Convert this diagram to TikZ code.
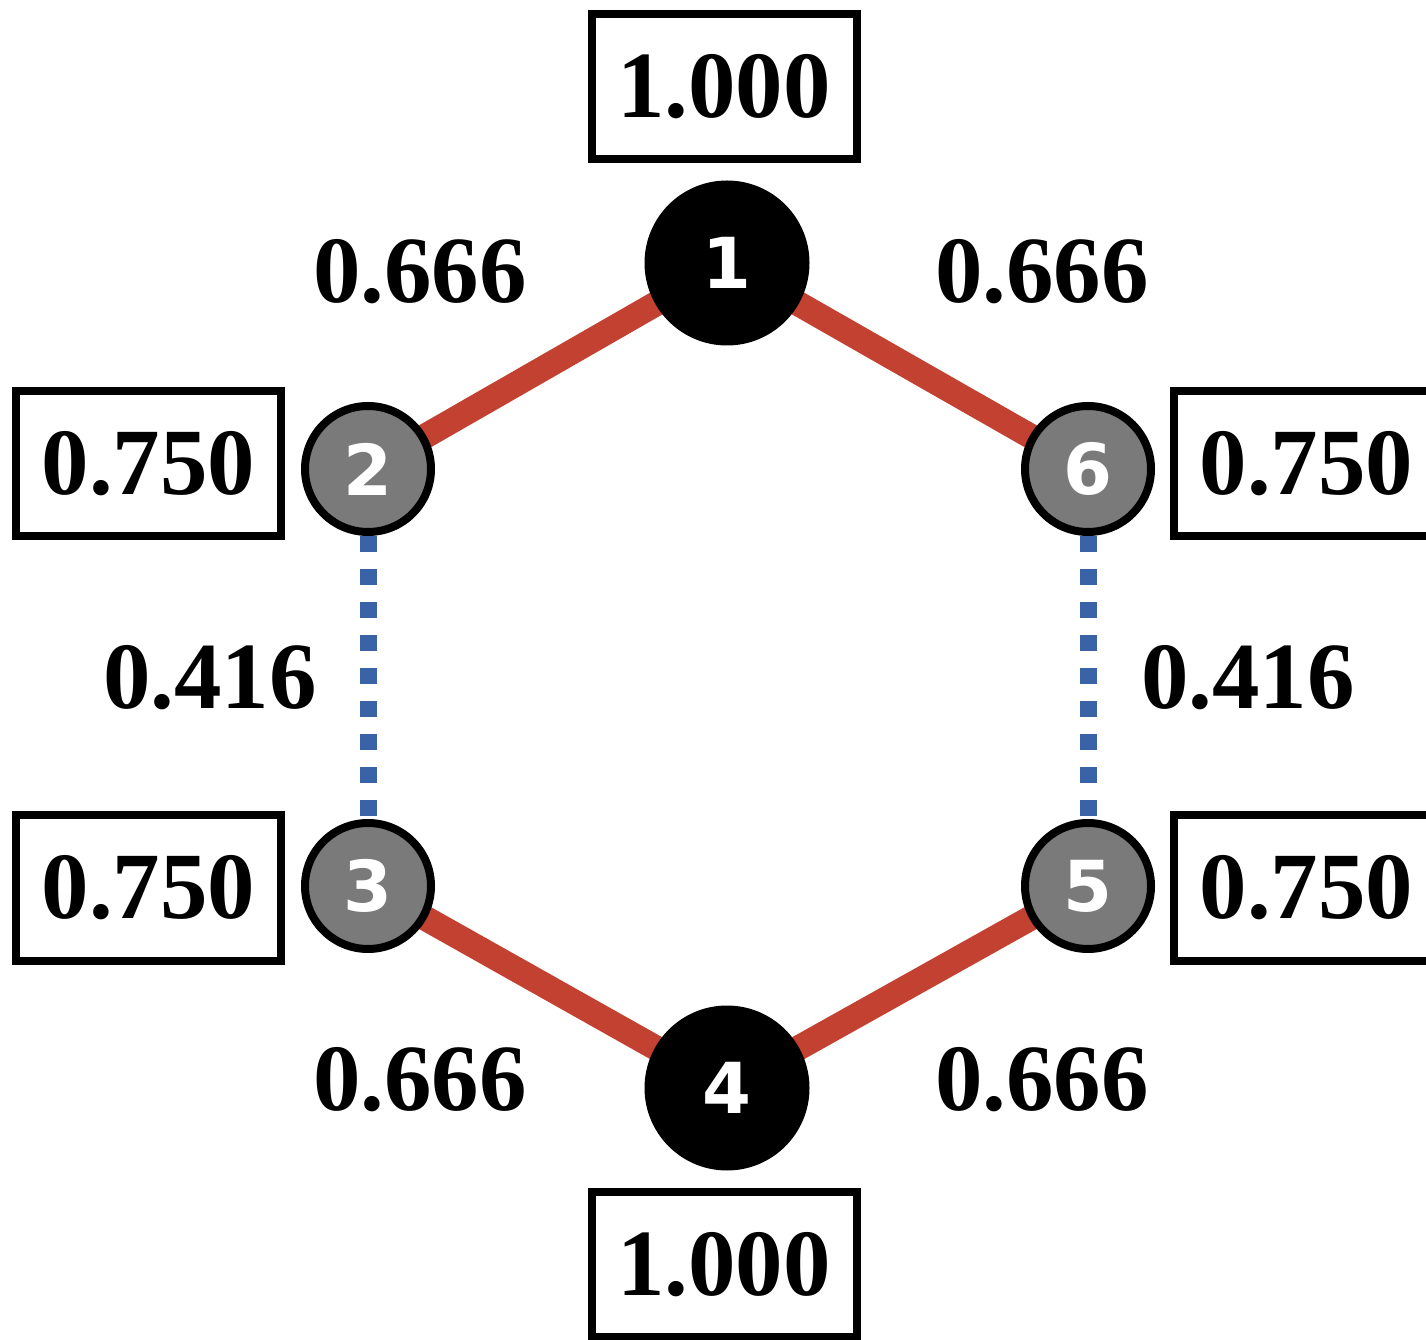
\documentclass[tikz,border=0pt]{standalone}
\usepackage{fontspec}
\setmainfont{Liberation Serif}
\newfontfamily\numfont{DejaVu Sans}
\usepackage{xcolor}
\usepackage{tikz}
\usetikzlibrary{backgrounds}
\definecolor{linkred}{HTML}{C24130}
\definecolor{linkblue}{HTML}{3A62A6}
\definecolor{nodegray}{HTML}{7A7A7A}

\begin{document}
\begin{tikzpicture}[
    valbox/.style={draw, line width=0.08cm, rectangle, minimum width=2.65cm, minimum height=1.45cm, inner sep=0pt, font=\fontsize{27}{30}\selectfont\bfseries},
    bignode/.style={circle, fill=black, minimum size=1.65cm, inner sep=0pt, text=white, font=\numfont\fontsize{20}{22}\selectfont\bfseries},
    smallnode/.style={circle, draw=black, line width=0.08cm, fill=nodegray, minimum size=1.26cm, inner sep=0pt, text=white, font=\numfont\fontsize{20}{22}\selectfont\bfseries},
    edgelabel/.style={inner sep=0pt, font=\fontsize{27}{30}\selectfont\bfseries},
    redlink/.style={draw=linkred, line width=0.25cm},
    bluelink/.style={draw=linkblue, line width=0.17cm, dash pattern=on 0.16cm off 0.17cm}
]
    \useasboundingbox (0,0) rectangle (14.26,13.39);

    \node[bignode] (N1) at (7.27,10.76) {1};
    \node[smallnode] (N2) at (3.68,8.70) {2};
    \node[smallnode] (N3) at (3.68,4.53) {3};
    \node[bignode] (N4) at (7.27,2.51) {4};
    \node[smallnode] (N5) at (10.88,4.53) {5};
    \node[smallnode] (N6) at (10.88,8.70) {6};

    \begin{scope}[on background layer]
        \draw[redlink] (N1.center) -- (N2.center);
        \draw[redlink] (N1.center) -- (N6.center);
        \draw[redlink] (N4.center) -- (N3.center);
        \draw[redlink] (N4.center) -- (N5.center);
    \end{scope}
    \draw[bluelink] (N2) -- (N3);
    \draw[bluelink] (N6) -- (N5);

    \node[valbox] (B1) at (7.24,12.52) {1.000};
    \node[valbox] (B2) at (1.485,8.75) {0.750};
    \node[valbox] (B3) at (1.485,4.51) {0.750};
    \node[valbox] (B4) at (7.24,0.745) {1.000};
    \node[valbox] (B5) at (13.065,4.51) {0.750};
    \node[valbox] (B6) at (13.065,8.75) {0.750};

    \node[edgelabel] (L12) at (4.20,10.67) {0.666};
    \node[edgelabel] (L16) at (10.42,10.67) {0.666};
    \node[edgelabel] (L23) at (2.10,6.61) {0.416};
    \node[edgelabel] (L65) at (12.48,6.61) {0.416};
    \node[edgelabel] (L43) at (4.20,2.59) {0.666};
    \node[edgelabel] (L45) at (10.42,2.59) {0.666};
\end{tikzpicture}
\end{document}
